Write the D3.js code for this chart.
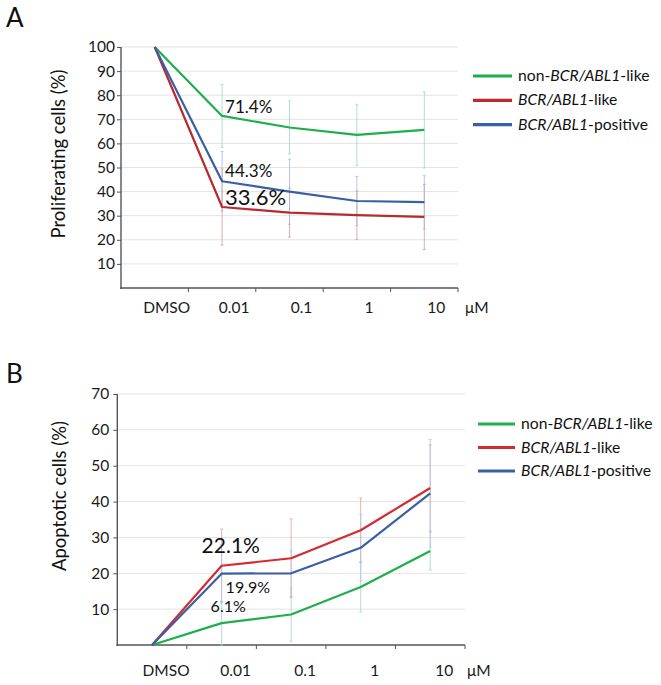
<!DOCTYPE html>
<html><head><meta charset="utf-8">
<script src="https://cdn.jsdelivr.net/npm/d3@7"></script>
<style>
body{margin:0;background:#fff;}
svg{font-family:Lato,"Open Sans",sans-serif;}
</style></head>
<body><svg id="c" width="661" height="685"></svg>
<script>
const categories = ["DMSO","0.01","0.1","1","10"];
const seriesNames = ["non-BCR/ABL1-like","BCR/ABL1-like","BCR/ABL1-positive"];
const unitLabel = "\u03BCM";

// Panel A: proliferating cells (%)
const prolifTicks = [10,20,30,40,50,60,70,80,90,100];
const prolifGreen = [100,71.4,66.6,63.5,65.6];
const prolifRed   = [100,33.6,31.3,30.2,29.5];
const prolifBlue  = [100,44.3,40.0,36.1,35.6];
const prolifGreenErr = [0,13.0,11.0,12.7,15.8];
const prolifRedErr   = [0,15.8,10.2,10.1,13.5];
const prolifBlueErr  = [0,12.3,13.5,10.2,11.0];

// Panel B: apoptotic cells (%)
const apopTicks = [10,20,30,40,50,60,70];
const apopGreen = [0,6.1,8.5,16.2,26.2];
const apopRed   = [0,22.1,24.2,32.0,43.8];
const apopBlue  = [0,19.9,20.0,27.1,42.3];
const apopGreenErr = [0,6.1,7.5,7.0,5.3];
const apopRedErr   = [0,10.2,11.0,9.0,12.0];
const apopBlueErr  = [0,8.0,6.4,9.3,15.0];

const svg = d3.select("#c");

function legendText(sel, name){
  const parts = name.split(/(BCR\/ABL1)/);
  parts.forEach(p=>{ if(p) sel.append("tspan").attr("font-style", p==="BCR/ABL1"?"italic":"normal").text(p); });
}

function panel(o){
  const g = svg.append("g");
  const x = d3.scaleBand().domain(categories).range([o.left,o.right]).padding(0);
  const y = d3.scaleLinear().domain([0,o.max]).range([o.bottom,o.top]);
  const cx = c => x(c)+x.bandwidth()/2;

  // grid
  g.append("g").selectAll("line").data(o.ticks).join("line")
    .attr("x1",o.left).attr("x2",o.right).attr("y1",d=>y(d)).attr("y2",d=>y(d))
    .attr("stroke","#e3e3e3").attr("stroke-width",1);

  // y axis
  const ya = g.append("g").attr("transform",`translate(${o.left},0)`)
    .call(d3.axisLeft(y).tickValues(o.ticks).tickSize(4).tickSizeOuter(0));
  ya.select(".domain").remove();
  ya.selectAll(".tick line").attr("stroke","#555");
  ya.selectAll(".tick text").attr("font-size",15.5).attr("fill","#1a1a1a").attr("x",o.tickDx).attr("font-family","Lato");
  g.append("line").attr("x1",o.left).attr("x2",o.left).attr("y1",y(o.max)).attr("y2",o.bottom+1)
    .attr("stroke","#555").attr("stroke-width",1.4);

  // x axis
  g.append("line").attr("x1",o.left-1).attr("x2",o.right).attr("y1",o.bottom).attr("y2",o.bottom)
    .attr("stroke","#555").attr("stroke-width",1.4);
  const bounds = categories.slice(1).map(c=>x(c)).concat([o.right]);
  g.append("g").selectAll("line").data(bounds).join("line")
    .attr("x1",d=>d).attr("x2",d=>d).attr("y1",o.bottom).attr("y2",o.bottom+4)
    .attr("stroke","#555").attr("stroke-width",1);
  g.append("g").selectAll("text").data(categories).join("text")
    .attr("x",d=>cx(d)+o.labelDx).attr("y",o.bottom+o.labelDy)
    .attr("text-anchor","middle").attr("font-size",15.5).attr("fill","#1a1a1a").text(d=>d);
  g.append("text").attr("x",o.unitX).attr("y",o.bottom+o.labelDy).attr("font-size",15.5).attr("fill","#1a1a1a").text(unitLabel);

  // error bars
  o.series.forEach(s=>{
    const eg = g.append("g").attr("stroke",s.errColor).attr("stroke-width",1).attr("opacity",0.8);
    categories.forEach((c,i)=>{
      if(!s.err[i]) return;
      const xx = cx(c), y1 = y(Math.max(0,s.vals[i]-s.err[i])), y2 = y(s.vals[i]+s.err[i]);
      eg.append("line").attr("x1",xx).attr("x2",xx).attr("y1",y1).attr("y2",y2);
      eg.append("line").attr("x1",xx-1.5).attr("x2",xx+1.5).attr("y1",y1).attr("y2",y1);
      eg.append("line").attr("x1",xx-1.5).attr("x2",xx+1.5).attr("y1",y2).attr("y2",y2);
    });
  });

  // lines
  const line = d3.line().x((d,i)=>cx(categories[i])).y(d=>y(d));
  o.series.forEach(s=>{
    g.append("path").datum(s.vals).attr("d",line).attr("fill","none")
      .attr("stroke",s.color).attr("stroke-width",2.2).attr("stroke-linejoin","round");
  });

  // annotations
  o.annots.forEach(a=>{
    const s = o.series[a.s];
    g.append("text").attr("x",cx(categories[a.i])+a.dx).attr("y",y(s.vals[a.i])+a.dy)
      .attr("font-size",a.size).attr("fill","#111").text(s.vals[a.i].toFixed(1)+"%");
  });

  // y label
  g.append("text").attr("transform",`translate(${o.ylabX},${o.ylabY}) rotate(-90)`)
    .attr("text-anchor","middle").attr("font-size",o.ylabSize).attr("fill","#111").text(o.ylabel);

  // panel letter
  g.append("text").attr("x",o.letterX).attr("y",o.letterY).attr("font-size",26).attr("fill","#111").text(o.letter);

  // legend
  [0,1,2].forEach((k,j)=>{
    const s = o.series[k];
    const ly = o.legY + j*o.legGap;
    g.append("line").attr("x1",o.legX).attr("x2",o.legX+o.legLen).attr("y1",ly).attr("y2",ly)
      .attr("stroke",s.color).attr("stroke-width",3.2);
    const t = g.append("text").attr("x",o.legX+o.legLen+6).attr("y",ly+5).attr("font-size",15.7).attr("fill","#111");
    legendText(t, seriesNames[k]);
  });
}

panel({
  left:121, right:458, top:47, bottom:288, max:100, ticks:prolifTicks, tickDx:-6,
  labelDx:12, labelDy:25, unitX:465,
  ylabel:"Proliferating cells (%)", ylabX:65, ylabY:154, ylabSize:18.5,
  letter:"A", letterX:6, letterY:27,
  legX:473, legLen:39, legY:76, legGap:24.3,
  series:[
    {vals:prolifGreen, err:prolifGreenErr, color:"#1fae4c", errColor:"#9fd8bf"},
    {vals:prolifRed, err:prolifRedErr, color:"#b82a2f", errColor:"#d99a9c"},
    {vals:prolifBlue, err:prolifBlueErr, color:"#3b5fa4", errColor:"#a9b8de"}
  ],
  annots:[{s:0,i:1,dx:3,dy:-3,size:17},{s:2,i:1,dx:3,dy:-4.5,size:17},{s:1,i:1,dx:3,dy:-2,size:22}]
});

panel({
  left:117.3, right:465, top:394, bottom:645, max:70, ticks:apopTicks, tickDx:-8,
  labelDx:14, labelDy:31, unitX:467,
  ylabel:"Apoptotic cells (%)", ylabX:66, ylabY:496, ylabSize:18.5,
  letter:"B", letterX:6, letterY:383,
  legX:478, legLen:37, legY:424, legGap:23.5,
  series:[
    {vals:apopGreen, err:apopGreenErr, color:"#1fae4c", errColor:"#9fd8c8"},
    {vals:apopRed, err:apopRedErr, color:"#d42a30", errColor:"#e0a0a2"},
    {vals:apopBlue, err:apopBlueErr, color:"#3b5fa4", errColor:"#b3c4e2"}
  ],
  annots:[{s:1,i:1,dx:-20,dy:-13,size:21},{s:2,i:1,dx:4,dy:19,size:16},{s:0,i:1,dx:-11,dy:-11,size:16}]
});
</script></body></html>
